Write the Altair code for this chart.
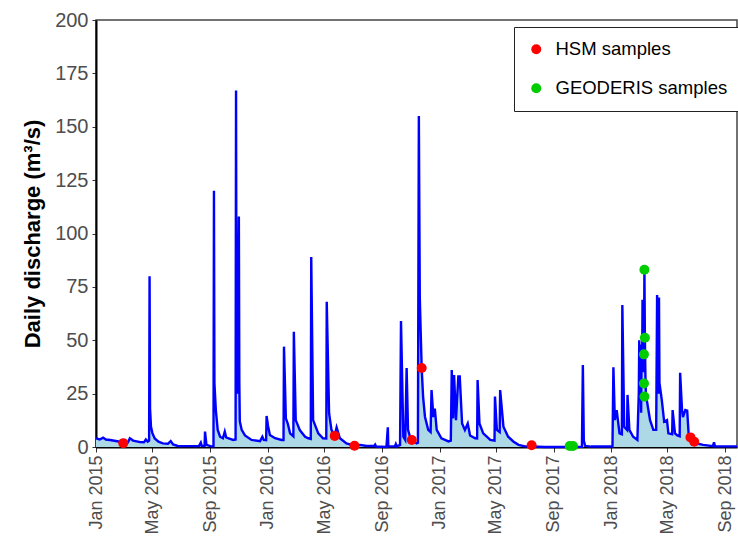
import altair as alt
import pandas as pd

# ---- daily discharge (m3/s), key readings from the hydrograph ----
flow_dates = [
    "2015-01-01", "2015-01-09", "2015-01-16", "2015-01-22", "2015-01-31", "2015-02-12",
    "2015-02-28", "2015-03-10", "2015-03-14", "2015-03-21", "2015-04-05", "2015-04-13",
    "2015-04-17", "2015-04-21", "2015-04-24", "2015-04-25", "2015-04-26", "2015-04-28",
    "2015-05-01", "2015-05-06", "2015-05-14", "2015-05-23", "2015-06-03", "2015-06-09",
    "2015-06-14", "2015-06-24", "2015-07-20", "2015-08-08", "2015-08-12", "2015-08-14",
    "2015-08-20", "2015-08-21", "2015-08-24", "2015-09-03", "2015-09-08", "2015-09-09",
    "2015-09-10", "2015-09-13", "2015-09-17", "2015-09-22", "2015-09-28", "2015-10-02",
    "2015-10-05", "2015-10-09", "2015-10-20", "2015-10-25", "2015-10-26", "2015-10-27",
    "2015-10-29", "2015-11-01", "2015-11-02", "2015-11-03", "2015-11-07", "2015-11-14",
    "2015-11-28", "2015-12-16", "2015-12-21", "2015-12-24", "2015-12-29", "2015-12-30",
    "2016-01-02", "2016-01-06", "2016-01-17", "2016-01-31", "2016-02-04", "2016-02-05",
    "2016-02-09", "2016-02-13", "2016-02-18", "2016-02-25", "2016-02-26", "2016-03-01",
    "2016-03-10", "2016-03-21", "2016-03-28", "2016-04-02", "2016-04-03", "2016-04-07",
    "2016-04-18", "2016-04-28", "2016-05-05", "2016-05-06", "2016-05-11", "2016-05-16",
    "2016-05-23", "2016-05-27", "2016-06-03", "2016-06-17", "2016-07-04", "2016-07-16",
    "2016-07-30", "2016-08-15", "2016-08-17", "2016-08-19", "2016-09-10", "2016-09-13",
    "2016-09-14", "2016-09-28", "2016-09-30", "2016-10-02", "2016-10-09", "2016-10-11",
    "2016-10-16", "2016-10-20", "2016-10-23", "2016-10-26", "2016-10-31", "2016-11-03",
    "2016-11-13", "2016-11-16", "2016-11-18", "2016-11-20", "2016-11-24", "2016-11-27",
    "2016-12-01", "2016-12-08", "2016-12-13", "2016-12-15", "2016-12-19", "2016-12-22",
    "2016-12-26", "2017-01-05", "2017-01-20", "2017-01-25", "2017-01-27", "2017-01-30",
    "2017-02-01", "2017-02-05", "2017-02-10", "2017-02-13", "2017-02-18", "2017-02-24",
    "2017-03-02", "2017-03-07", "2017-03-18", "2017-03-22", "2017-03-23", "2017-03-27",
    "2017-04-04", "2017-04-19", "2017-04-28", "2017-04-29", "2017-05-03", "2017-05-09",
    "2017-05-10", "2017-05-17", "2017-05-27", "2017-06-07", "2017-06-18", "2017-07-02",
    "2017-07-16", "2017-08-13", "2017-10-31", "2017-11-02", "2017-11-04", "2017-11-07",
    "2017-11-20", "2018-01-04", "2018-01-06", "2018-01-09", "2018-01-13", "2018-01-19",
    "2018-01-24", "2018-01-25", "2018-01-29", "2018-02-04", "2018-02-05", "2018-02-09",
    "2018-02-17", "2018-02-26", "2018-03-01", "2018-03-02", "2018-03-03", "2018-03-04",
    "2018-03-05", "2018-03-06", "2018-03-07", "2018-03-08", "2018-03-09", "2018-03-10",
    "2018-03-11", "2018-03-12", "2018-03-13", "2018-03-14", "2018-03-15", "2018-03-16",
    "2018-03-18", "2018-03-25", "2018-04-01", "2018-04-07", "2018-04-09", "2018-04-10",
    "2018-04-12", "2018-04-13", "2018-04-14", "2018-04-19", "2018-04-24", "2018-04-30",
    "2018-05-03", "2018-05-11", "2018-05-12", "2018-05-17", "2018-05-22", "2018-05-27",
    "2018-05-28", "2018-06-01", "2018-06-03", "2018-06-08", "2018-06-12", "2018-06-15",
    "2018-06-19", "2018-06-27", "2018-07-02", "2018-07-16", "2018-08-06", "2018-08-08",
    "2018-08-10", "2018-09-26",
]
flow_values = [
    4.1, 3.5, 4.4, 3.5, 3.3, 2.8,
    2.2, 2.2, 4.1, 3.0, 2.3, 2.2,
    3.5, 2.5, 3.0, 80, 18, 9.5,
    6.5, 4.0, 2.5, 1.7, 1.5, 2.8,
    1.2, 0.5, 0.4, 0.4, 2.0, 0.5,
    0.5, 7.2, 1.0, 0.3, 0.3, 120,
    30, 17.3, 8, 4.8, 4.1, 7.2,
    4.5, 4.1, 3.3, 3.5, 167, 40,
    25, 108, 30, 12, 8, 5.4,
    3.3, 2.7, 4.8, 3.3, 3.2, 14.5,
    10, 5.6, 4.1, 3.3, 3.3, 47,
    13.4, 11, 6.4, 5.0, 54, 12.6,
    7.8, 4.8, 4.1, 3.8, 89, 12.6,
    6.4, 4.1, 4.0, 68, 15.8, 8,
    5.4, 9.2, 4.1, 1.7, 0.6, 1.0,
    0.5, 0.5, 1.1, 0.2, 0.0, 9.2,
    0.3, 0.3, 1.4, 0.3, 1.0, 59,
    4.8, 3.3, 37, 8, 4.1, 3.3,
    1.7, 2.0, 155, 70, 37, 23.6,
    14.2, 8, 7, 26.7, 14, 18,
    8, 4.1, 2.6, 3.0, 36, 13.4,
    33.7, 12.6, 33, 33, 11, 8,
    11, 5.4, 4.1, 4.0, 31.4, 11,
    6.4, 3.3, 3.0, 23.6, 8, 7,
    26.7, 9.5, 4.8, 2.6, 1.0, 0.3,
    0.3, 0.0, 0.1, 38.4, 3.0, 0.5,
    0.2, 0.2, 37.3, 12.6, 17.3, 6.4,
    6.0, 66.5, 9.5, 8, 24.4, 8,
    4.8, 3.3, 25, 50, 32, 48,
    40, 16, 45, 35, 69, 35,
    62, 44, 83, 51, 35, 25,
    22, 12.6, 8, 8, 71.2, 30,
    25, 70, 30, 22, 11.9, 12.6,
    6.4, 6, 17.3, 6.4, 5.4, 5,
    34.8, 17.3, 14, 17.3, 17, 6.4,
    4.5, 2.5, 1.7, 1.0, 0.4, 2.2,
    0.4, 0.3,
]

# ---- water samples ----
hsm_dates = ["2015-02-28", "2016-05-23", "2016-07-04", "2016-11-03", "2016-11-24",
             "2017-07-16", "2018-06-19", "2018-06-27"]
hsm_values = [1.8, 5.2, 0.6, 3.3, 37, 0.8, 4.5, 2.5]

geo_dates = ["2017-10-05", "2017-10-12", "2018-03-13", "2018-03-14", "2018-03-12",
             "2018-03-12", "2018-03-13"]
geo_values = [0.5, 0.5, 83, 51.2, 43.4, 29.8, 23.6]

series_names = ["HSM samples", "GEODERIS samples"]
series_colors = ["#FF0000", "#00CD00"]

tick_years_months = [(2015, 1), (2015, 5), (2015, 9), (2016, 1), (2016, 5), (2016, 9),
                     (2017, 1), (2017, 5), (2017, 9), (2018, 1), (2018, 5), (2018, 9)]
y_ticks = [0, 25, 50, 75, 100, 125, 150, 175, 200]

flow = pd.DataFrame({"date": flow_dates, "q": flow_values})
samples = pd.DataFrame({
    "date": hsm_dates + geo_dates,
    "q": hsm_values + geo_values,
    "source": [series_names[0]] * len(hsm_dates) + [series_names[1]] * len(geo_dates),
})

FONT = "Liberation Sans"

x_scale = alt.Scale(type="utc", domain=[
    alt.DateTime(year=2015, month=1, date=1, utc=True),
    alt.DateTime(year=2018, month=9, date=26, utc=True)])
y_scale = alt.Scale(domain=[0, 200], nice=False)

x_axis = alt.Axis(
    values=[alt.DateTime(year=y, month=m, date=1, utc=True) for y, m in tick_years_months],
    labelExpr="utcFormat(datum.value, '%b %Y')",
    labelAngle=-90, labelFontSize=18, labelColor="#4D4D4D", labelFont=FONT,
    labelPadding=3, tickSize=5, tickColor="#333333", tickWidth=1,
    domainColor="black", domainWidth=2, grid=False, title=None,
    labelOverlap=False, labelFlush=False, labelBound=False,
)
y_axis = alt.Axis(
    values=y_ticks, title="Daily discharge (m³/s)",
    titleFontSize=22, titleFontWeight="bold", titleColor="black", titleFont=FONT,
    labelFontSize=20, labelColor="#4D4D4D", labelFont=FONT, labelPadding=4,
    tickSize=4, tickColor="#333333", tickWidth=1,
    domainColor="black", domainWidth=2, grid=False, titlePadding=10,
)

X = alt.X("date:T", scale=x_scale, axis=x_axis)
Y = alt.Y("q:Q", scale=y_scale, axis=y_axis)

area = alt.Chart(flow).mark_area(color="#ADD8E6").encode(x=X, y=Y)
line = alt.Chart(flow).mark_line(color="#0000FF", strokeWidth=2.4).encode(x=X, y=Y)
points = alt.Chart(samples).mark_circle(size=100, opacity=1).encode(
    x=X, y=Y,
    color=alt.Color("source:N",
                    scale=alt.Scale(domain=series_names, range=series_colors),
                    legend=alt.Legend(
                        title=None, orient="none", legendX=418, legendY=7,
                        direction="vertical", symbolType="circle", symbolSize=100,
                        symbolStrokeWidth=0, symbolOpacity=1,
                        labelFontSize=18.5, labelColor="black", labelFont=FONT,
                        labelLimit=0,
                        padding=13, rowPadding=20, labelOffset=10,
                        strokeColor="#222222", fillColor="white")),
)

chart = alt.layer(area, line, points).properties(
    width=641, height=427,
    autosize=alt.AutoSizeParams(type="none"),
    padding={"left": 96, "top": 20, "right": 1, "bottom": 91},
).configure_view(stroke="#444444", strokeWidth=1.5)

chart.save("out.html", embed_options={"renderer": "svg", "actions": False})
